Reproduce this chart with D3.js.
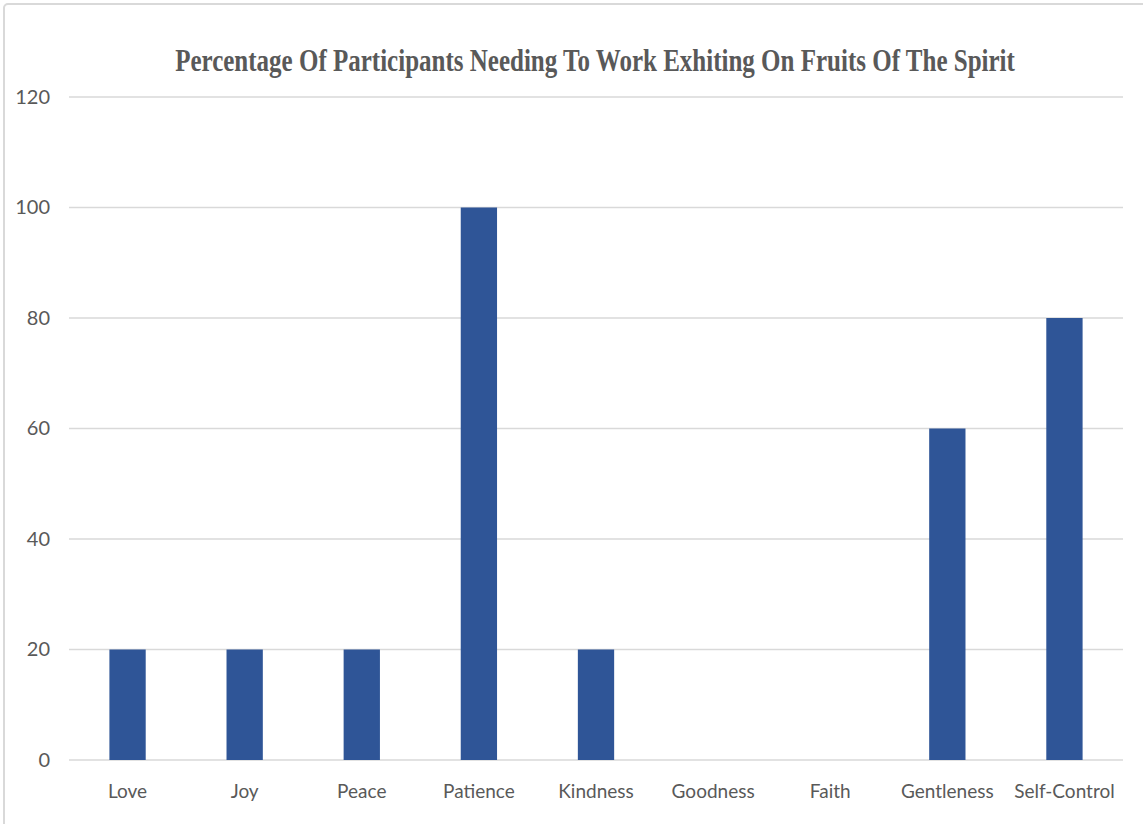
<!DOCTYPE html>
<html>
<head>
<meta charset="utf-8">
<script src="https://cdn.jsdelivr.net/npm/d3@7"></script>
<style>
  body { margin: 0; background: #fff; }
</style>
</head>
<body>
<svg width="1143" height="824"></svg>
<script>
// chart data
var categories = ["Love", "Joy", "Peace", "Patience", "Kindness", "Goodness", "Faith", "Gentleness", "Self-Control"];
var values = [20, 20, 20, 100, 20, 0, 0, 60, 80];
var yTicks = [0, 20, 40, 60, 80, 100, 120];
var chartTitle = "Percentage Of Participants Needing To Work Exhiting On Fruits Of The Spirit";

var svg = d3.select("svg"),
    margin = { top: 97, right: 20, bottom: 64, left: 69 },
    width = 1123 - margin.left,
    height = 760 - margin.top,
    g = svg.append("g").attr("transform", "translate(" + margin.left + "," + margin.top + ")");

var labelFont = "Lato, 'Open Sans', sans-serif";

// outer chart border
svg.append("rect")
    .attr("x", 4).attr("y", 4)
    .attr("width", 1150).attr("height", 830)
    .attr("rx", 4)
    .attr("fill", "none")
    .attr("stroke", "#d9d9d9")
    .attr("stroke-width", 2);

// title is squeezed horizontally like the original (~840px wide)
var title = svg.append("text")
    .attr("text-anchor", "middle")
    .attr("font-family", "Liberation Serif")
    .attr("font-weight", "bold")
    .attr("font-size", 31)
    .attr("fill", "#595959")
    .text(chartTitle);
var sx = 840 / title.node().getComputedTextLength();
title.attr("transform", "translate(595,71) scale(" + sx + ",1)");

var x = d3.scaleBand()
    .domain(categories)
    .range([0, width])
    .paddingInner(0.69)
    .paddingOuter(0.345);

var y = d3.scaleLinear()
    .domain([0, 120])
    .range([height, 0]);

// gridlines
g.selectAll(".grid")
    .data(yTicks)
    .enter().append("line")
    .attr("x1", 0)
    .attr("x2", width)
    .attr("y1", function (d) { return y(d); })
    .attr("y2", function (d) { return y(d); })
    .attr("stroke", "#d9d9d9")
    .attr("stroke-width", 1.5);

// y axis labels
var yAxis = g.append("g")
    .call(d3.axisLeft(y).tickValues(yTicks).tickSize(0).tickPadding(19));
yAxis.select(".domain").remove();
yAxis.selectAll("text")
    .attr("font-family", labelFont)
    .attr("font-size", 20)
    .attr("fill", "#595959");

g.selectAll(".bar")
    .data(values)
    .enter().append("rect")
    .attr("class", "bar")
    .attr("x", function (d, i) { return x(categories[i]); })
    .attr("width", x.bandwidth())
    .attr("y", function (d) { return y(d); })
    .attr("height", function (d) { return height - y(d); })
    .attr("fill", "#2f5597");

// x axis labels
var xAxis = g.append("g")
    .attr("transform", "translate(0," + height + ")")
    .call(d3.axisBottom(x).tickSize(0).tickPadding(25));
xAxis.select(".domain").remove();
xAxis.selectAll("text")
    .attr("font-family", labelFont)
    .attr("font-size", 19)
    .attr("fill", "#595959");
</script>
</body>
</html>
